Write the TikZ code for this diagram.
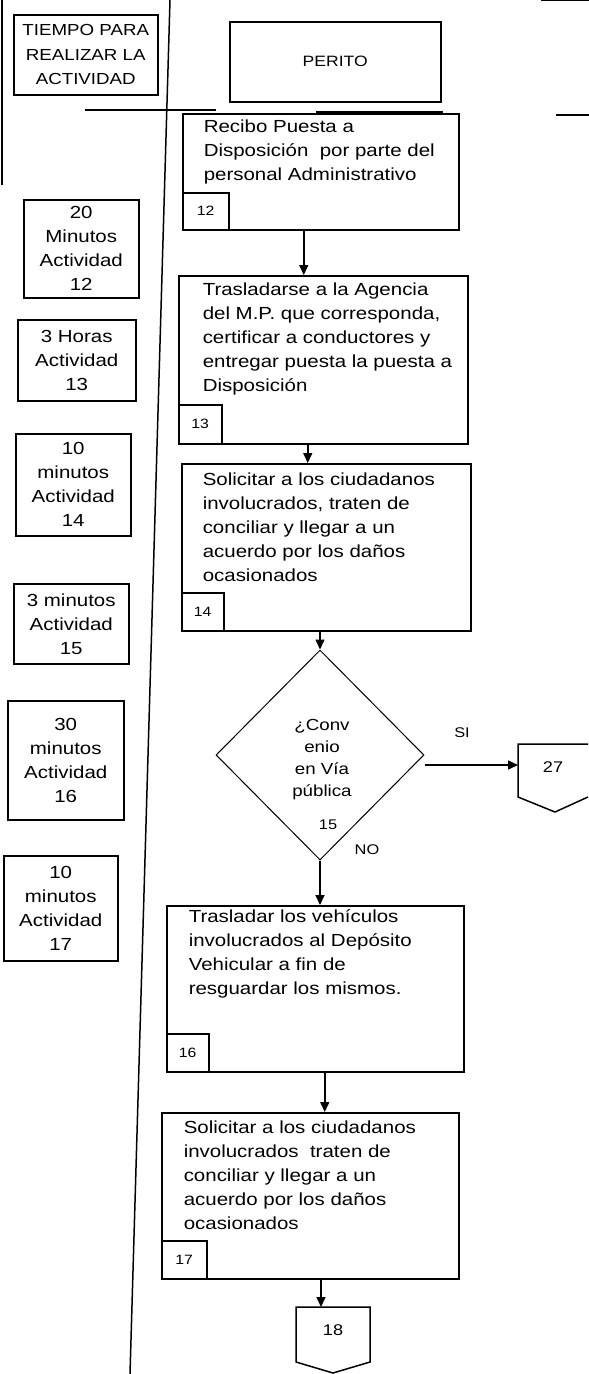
\documentclass[tikz,border=0pt]{standalone}
\usepackage{fontspec}
\setmainfont{Liberation Sans}[FakeStretch=1.17]
\usetikzlibrary{arrows.meta,shapes.geometric}
\begin{document}
\begin{tikzpicture}[x=1pt,y=-1pt,line width=1.5pt,
  box/.style={draw,rectangle,inner sep=0pt,anchor=north west},
  tbox/.style={box,align=center,font=\fontsize{17.5}{24}\selectfont},
  numbox/.style={box,font=\fontsize{13.5}{15}\selectfont},
  txt/.style={anchor=north west,inner sep=0pt,align=left,font=\fontsize{17.5}{24}\selectfont},
  lbl/.style={inner sep=0pt,font=\fontsize{14}{16}\selectfont},
  conlbl/.style={inner sep=0pt,font=\fontsize{15.5}{18}\selectfont},
  arr/.style={-{Triangle[length=10pt,width=9pt]}}
]
\useasboundingbox (0,0) rectangle (589,1374);

% header / frame lines
\draw (2,0) -- (2,185);
\draw (170,0) -- (130,1374);
\draw (85,110) -- (216,110);
\draw (316,112) -- (443,112);
\draw (556,115) -- (589,115);
\draw (541,0) -- (589,0);

\node[tbox,minimum width=144pt,minimum height=80pt,font=\fontsize{16}{24.5}\selectfont] (hdr) at (13,14) {TIEMPO PARA\\REALIZAR LA\\ACTIVIDAD};
\node[box,minimum width=211pt,minimum height=80pt,font=\fontsize{15}{18}\selectfont] (perito) at (229,21) {PERITO};

% time column
\node[tbox,minimum width=115pt,minimum height=98pt] (t12) at (23,199) {20\\Minutos\\Actividad\\12};
\node[tbox,minimum width=118pt,minimum height=81pt] (t13) at (17,319) {3 Horas\\Actividad\\13};
\node[tbox,minimum width=115pt,minimum height=102pt] (t14) at (15,433) {10\\minutos\\Actividad\\14};
\node[tbox,minimum width=115pt,minimum height=80pt] (t15) at (13,583) {3 minutos\\Actividad\\15};
\node[tbox,minimum width=116pt,minimum height=119pt] (t16) at (7,700) {30\\minutos\\Actividad\\16};
\node[tbox,minimum width=114pt,minimum height=105pt] (t17) at (3,855) {10\\minutos\\Actividad\\17};

% activity boxes
\node[box,minimum width=276pt,minimum height=116pt] (b12) at (182,113) {};
\node[txt] (b12t) at (203,115) {\strut Recibo Puesta a\\Disposición~ por parte del\\personal Administrativo};
\node[numbox,minimum width=46pt,minimum height=37pt] (b12n) at (182,192) {12};

\node[box,minimum width=289pt,minimum height=168pt] (b13) at (178,275) {};
\node[txt] (b13t) at (202,278) {\strut Trasladarse a la Agencia\\del M.P. que corresponda,\\certificar a conductores y\\entregar puesta la puesta a\\Disposición};
\node[numbox,minimum width=43pt,minimum height=39pt] (b13n) at (178,404) {13};

\node[box,minimum width=289pt,minimum height=167pt] (b14) at (181,463) {};
\node[txt] (b14t) at (202,468) {\strut Solicitar a los ciudadanos\\involucrados, traten de\\conciliar y llegar a un\\acuerdo por los daños\\ocasionados};
\node[numbox,minimum width=42pt,minimum height=38pt] (b14n) at (181,592) {14};

\node[draw,diamond,inner sep=0pt,line width=1pt,minimum width=208pt,minimum height=210pt] (d15) at (320,755) {};
\node[inner sep=0pt,align=center,font=\fontsize{16}{22}\selectfont] (d15t) at (322,760) {¿Conv\\enio\\en Vía\\pública};
\node[lbl] (d15n) at (328,825) {15};

\node[box,minimum width=297pt,minimum height=166pt] (b16) at (166,905) {};
\node[txt] (b16t) at (188,905) {\strut Trasladar los vehículos\\involucrados al Depósito\\Vehicular a fin de\\resguardar los mismos.};
\node[numbox,minimum width=42pt,minimum height=38pt] (b16n) at (166,1033) {16};

\node[box,minimum width=297pt,minimum height=166pt] (b17) at (161,1112) {};
\node[txt] (b17t) at (183,1116) {\strut Solicitar a los ciudadanos\\involucrados~ traten de\\conciliar y llegar a un\\acuerdo por los daños\\ocasionados};
\node[numbox,minimum width=45pt,minimum height=38pt] (b17n) at (161,1240) {17};

% off-page connectors
\draw (588,797) -- (555,812) -- (518,797) -- (518,744) -- (588,744);
\coordinate (c27w) at (518,765);
\node[conlbl] (n27) at (553,767) {27};
\draw (296,1307) -- (370,1307) -- (370,1362) -- (333,1373) -- (296,1362) -- cycle;
\coordinate (c18t) at (321,1307);
\node[conlbl] (n18) at (333,1330) {18};

% labels
\node[lbl] (si) at (462,733) {SI};
\node[lbl] (no) at (367,850) {NO};

% connectors
\coordinate (a12) at ([xshift=-17pt]b12.south);
\draw[arr] (a12) -- (a12 |- b13.north);
\coordinate (a13) at ([xshift=-15.5pt]b13.south);
\draw[arr] (a13) -- (a13 |- b14.north);
\draw[arr] (d15.north |- b14.south) -- (d15.north);
\draw[arr] (d15.south) -- (d15.south |- b16.north);
\draw[arr] ([yshift=-10pt]d15.east) -- (c27w);
\coordinate (a16) at ([xshift=9.5pt]b16.south);
\draw[arr] (a16) -- (a16 |- b17.north);
\draw[arr] (c18t |- b17.south) -- (c18t);
\end{tikzpicture}
\end{document}
